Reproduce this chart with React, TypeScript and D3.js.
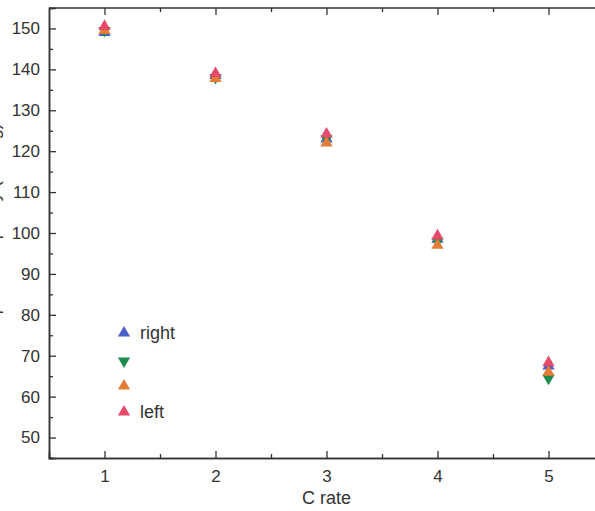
import { useEffect, useRef } from 'react'
import * as d3 from 'd3'

const cRates = [1, 2, 3, 4, 5]
const rightVals = [149, 138.5, 123, 98.5, 67.5]
const downVals = [149.5, 138, 123, 98, 64.5]
const orangeVals = [149.5, 137.8, 122, 97, 66]
const leftVals = [150.5, 139, 124.2, 99.3, 68.3]

const seriesNames = ['right', '', '', 'left']
const seriesColors = ['#4a5fc8', '#1e8c4e', '#e57c35', '#e54a6a']
const seriesShapes = ['up', 'down', 'up', 'up']
const yTicks = [50, 60, 70, 80, 90, 100, 110, 120, 130, 140, 150]

const App = () => {
  const ref = useRef(null)

  useEffect(() => {
    const width = 595
    const height = 511
    const margin = { top: 8, left: 49, bottom: 53 }
    const svg = d3.select(ref.current)
    svg.selectAll('*').remove()

    const x = d3.scaleLinear().domain([0.5, 5.5]).range([margin.left, margin.left + 555])
    const y = d3.scaleLinear().domain([45, 155]).range([height - margin.bottom, margin.top])

    const font = 'Liberation Sans, Arial, sans-serif'
    const g = svg.append('g')

    // frame
    g.append('line').attr('x1', margin.left).attr('x2', width).attr('y1', y(155)).attr('y2', y(155))
      .attr('stroke', '#666').attr('stroke-width', 2)

    const bottom = g.append('g').attr('transform', `translate(0,${y(45)})`)
      .call(d3.axisBottom(x).tickValues(cRates).tickSize(-7).tickPadding(12).tickFormat(d3.format('d')))
    const bottomMinor = g.append('g').attr('transform', `translate(0,${y(45)})`)
      .call(d3.axisBottom(x).tickValues([1.5, 2.5, 3.5, 4.5]).tickSize(-4).tickFormat(() => ''))
    const top = g.append('g').attr('transform', `translate(0,${y(155)})`)
      .call(d3.axisTop(x).tickValues(cRates).tickSize(-7).tickFormat(() => ''))
    const topMinor = g.append('g').attr('transform', `translate(0,${y(155)})`)
      .call(d3.axisTop(x).tickValues([1.5, 2.5, 3.5, 4.5]).tickSize(-4).tickFormat(() => ''))
    const left = g.append('g').attr('transform', `translate(${margin.left},0)`)
      .call(d3.axisLeft(y).tickValues(yTicks).tickSize(-7).tickPadding(9))
    const leftMinor = g.append('g').attr('transform', `translate(${margin.left},0)`)
      .call(d3.axisLeft(y).tickValues(yTicks.map(v => v - 5)).tickSize(-4).tickFormat(() => ''))

    ;[bottom, bottomMinor, top, topMinor, left, leftMinor].forEach(a => {
      a.select('.domain').attr('stroke', '#333').attr('stroke-width', 1.5)
      a.selectAll('.tick line').attr('stroke', '#333').attr('stroke-width', 1.3)
      a.selectAll('text').attr('font-family', font).attr('font-size', 17).attr('fill', '#333')
    })
    top.select('.domain').remove()
    topMinor.select('.domain').remove()

    // axis titles
    g.append('text').attr('x', x(3)).attr('y', 504).attr('text-anchor', 'middle')
      .attr('font-family', font).attr('font-size', 18).attr('fill', '#333').text('C rate')
    g.append('text').attr('transform', `translate(-1,${y(102)}) rotate(-90)`)
      .attr('text-anchor', 'middle').attr('font-family', font).attr('font-size', 18)
      .attr('fill', '#333').text('Specific capacity (mAh/g)')

    const sym = (shape: string) => {
      const p = d3.symbol().type(d3.symbolTriangle).size(65)()
      return shape === 'down' ? { d: p, rot: 180 } : { d: p, rot: 0 }
    }

    const allSeries = [rightVals, downVals, orangeVals, leftVals]
    allSeries.forEach((vals, si) => {
      const s = sym(seriesShapes[si])
      g.append('g').selectAll('path').data(vals).join('path')
        .attr('d', s.d)
        .attr('transform', (d, i) => `translate(${x(cRates[i])},${y(d)}) rotate(${s.rot})`)
        .attr('fill', seriesColors[si])
    })

    // legend
    const legY = [333, 361, 386, 412]
    const leg = g.append('g')
    seriesNames.forEach((name, i) => {
      const s = sym(seriesShapes[i])
      leg.append('path').attr('d', s.d)
        .attr('transform', `translate(124,${legY[i]}) rotate(${s.rot})`)
        .attr('fill', seriesColors[i])
      if (name) {
        leg.append('text').attr('x', 140).attr('y', legY[i] + 6)
          .attr('font-family', font).attr('font-size', 18).attr('fill', '#333').text(name)
      }
    })
  }, [])

  return (
    <svg ref={ref} width={595} height={511}
      style={{ position: 'absolute', left: 0, top: 0, background: '#fff' }}></svg>
  )
}

export default App
